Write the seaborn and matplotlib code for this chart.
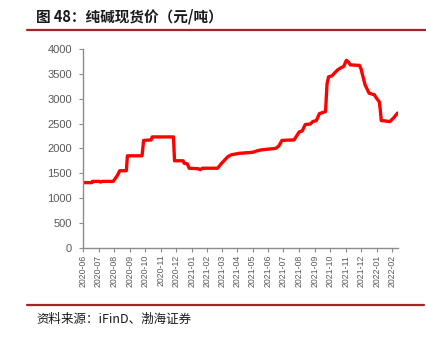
import matplotlib
matplotlib.use("Agg")
import matplotlib.pyplot as plt
from matplotlib.lines import Line2D
import pandas as pd
import seaborn as sns

# Soda ash spot price, CNY per tonne
dates = [
    "2020-06-01", "2020-06-18", "2020-06-19", "2020-07-03", "2020-07-05", "2020-07-08",
    "2020-07-30", "2020-08-07", "2020-08-12", "2020-08-25", "2020-08-27", "2020-09-25",
    "2020-09-28", "2020-10-13", "2020-10-15", "2020-11-26", "2020-11-28", "2020-12-15",
    "2020-12-17", "2020-12-23", "2020-12-27", "2021-01-14", "2021-01-18", "2021-01-22",
    "2021-02-21", "2021-03-01", "2021-03-13", "2021-03-20", "2021-04-05", "2021-05-01",
    "2021-05-10", "2021-05-19", "2021-06-16", "2021-06-22", "2021-06-28", "2021-07-22",
    "2021-08-01", "2021-08-07", "2021-08-13", "2021-08-23", "2021-08-28", "2021-09-04",
    "2021-09-10", "2021-09-22", "2021-09-25", "2021-09-28", "2021-10-05", "2021-10-10",
    "2021-10-16", "2021-10-22", "2021-10-28", "2021-11-02", "2021-11-06", "2021-11-10",
    "2021-11-28", "2021-12-01", "2021-12-05", "2021-12-09", "2021-12-17", "2021-12-27",
    "2022-01-02", "2022-01-06", "2022-01-08", "2022-01-10", "2022-01-27", "2022-02-04",
    "2022-02-11",
]
prices = [
    1310, 1310, 1335, 1335, 1320, 1335,
    1335, 1450, 1550, 1550, 1850, 1850,
    2160, 2170, 2230, 2230, 1750, 1750,
    1700, 1690, 1600, 1590, 1570, 1600,
    1600, 1700, 1830, 1870, 1900, 1920,
    1950, 1970, 2000, 2050, 2160, 2170,
    2330, 2350, 2480, 2490, 2540, 2560,
    2700, 2740, 3300, 3440, 3460, 3520,
    3580, 3620, 3650, 3770, 3740, 3680,
    3670, 3600, 3440, 3280, 3110, 3080,
    2990, 2940, 2780, 2560, 2540, 2620,
    2710,
]
tick_months = pd.date_range("2020-06-01", "2022-02-01", freq="MS")
tick_labels = [d.strftime("%Y-%m") for d in tick_months]
y_ticks = [0, 500, 1000, 1500, 2000, 2500, 3000, 3500, 4000]

title = "图 48：纯碱现货价（元/吨）"
source = "资料来源：iFinD、渤海证券"

df = pd.DataFrame({"date": pd.to_datetime(dates), "price": prices})

sns.set_theme(style="white")
plt.rcParams["font.family"] = ["Liberation Sans", "Noto Sans CJK SC", "DejaVu Sans"]

W, H = 426, 338
fig = plt.figure(figsize=(W / 100, H / 100), dpi=100)
ax = fig.add_axes([83.3 / W, 1 - 247.7 / H, (398 - 83.3) / W, (247.7 - 49) / H])

sns.lineplot(data=df, x="date", y="price", ax=ax, color="#FF0000", linewidth=2.4)

ax.set_ylim(0, 4000)
ax.set_xlim(pd.Timestamp("2020-06-01"), pd.Timestamp("2022-02-12"))
ax.set_yticks(y_ticks)
ax.set_yticklabels([str(v) for v in y_ticks])
ax.set_xticks(tick_months)
ax.set_xticklabels(tick_labels, rotation=90)
ax.set_xlabel("")
ax.set_ylabel("")

gray = "#8C8C8C"
for side in ("top", "right"):
    ax.spines[side].set_visible(False)
for side in ("left", "bottom"):
    ax.spines[side].set_color(gray)
    ax.spines[side].set_linewidth(1.0)
ax.tick_params(axis="y", direction="out", length=3, width=0.8, color=gray,
               labelsize=8, labelcolor="#595959", pad=5, left=True)
ax.tick_params(axis="x", direction="out", length=3, width=0.8, color=gray,
               labelsize=6.3, labelcolor="#595959", pad=2, bottom=True)
ax.grid(False)

# Header and footer rules with captions
rule_color = "#A32424"
fig.add_artist(Line2D([27 / W, 1.0], [1 - 30 / H, 1 - 30 / H], color=rule_color, linewidth=1.6))
fig.add_artist(Line2D([27 / W, 424 / W], [1 - 305 / H, 1 - 305 / H], color=rule_color, linewidth=1.6))
fig.text(36 / W, 1 - 17 / H, title, fontsize=10.5, fontweight="bold",
         family=["Noto Sans CJK SC", "DejaVu Sans"], color="#1A1A1A", va="center", ha="left")
fig.text(36 / W, 1 - 319 / H, source, fontsize=9, style="italic",
         family=["Noto Sans CJK SC", "DejaVu Sans"], color="#1A1A1A", va="center", ha="left")

fig.savefig("out.png", dpi=100)
